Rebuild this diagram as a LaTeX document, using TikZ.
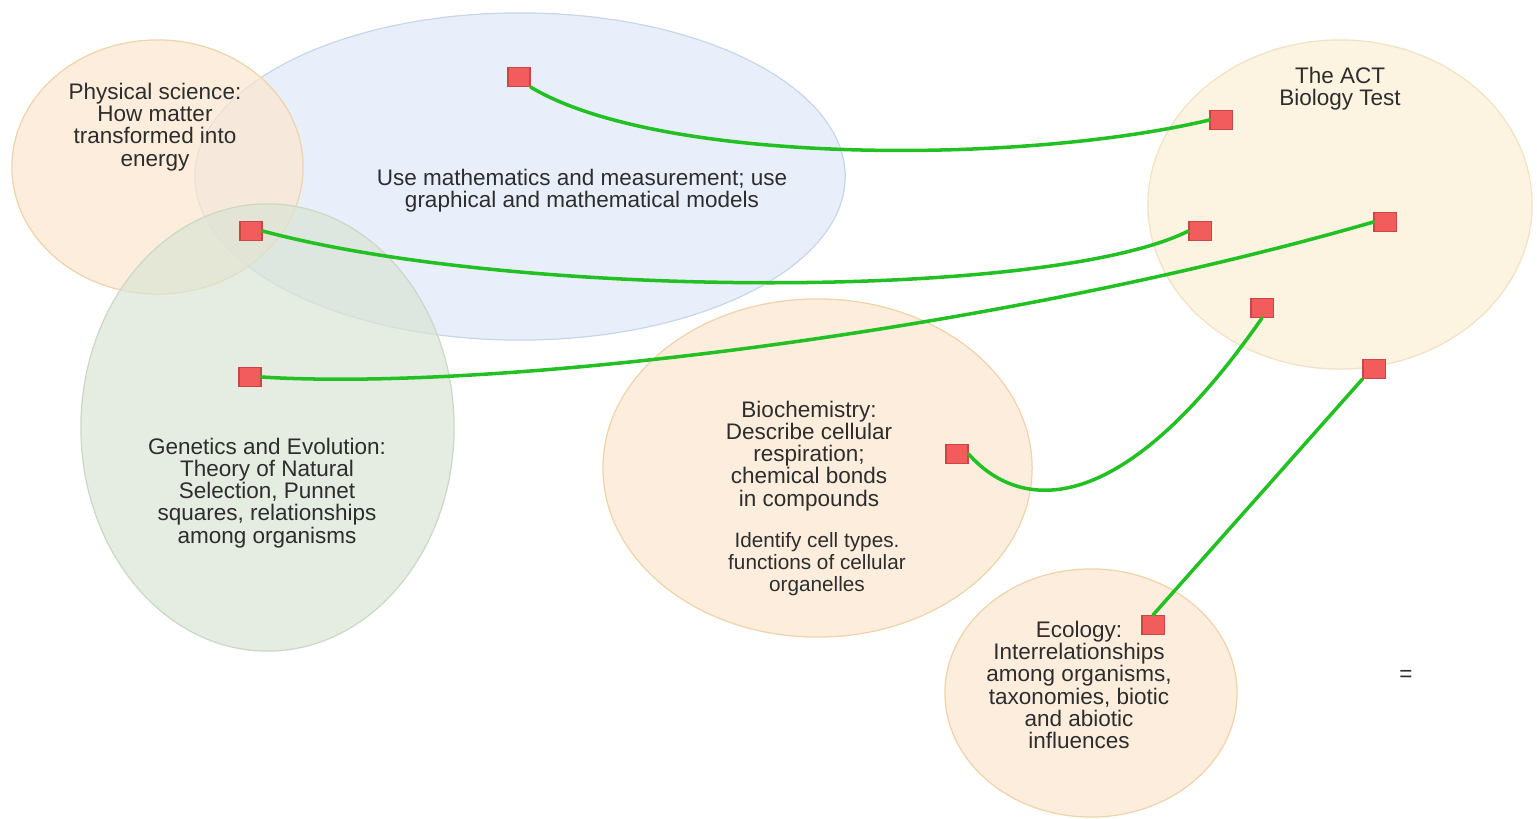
\documentclass[tikz,border=0pt]{standalone}
\usepackage{fontspec}
\setmainfont{Liberation Sans}
\usetikzlibrary{shapes.geometric}
\definecolor{peach}{RGB}{252,230,206}
\definecolor{peachedge}{RGB}{238,212,170}
\definecolor{skyfill}{RGB}{222,232,248}
\definecolor{skyedge}{RGB}{200,214,234}
\definecolor{sagefill}{RGB}{218,228,212}
\definecolor{sageedge}{RGB}{204,216,198}
\definecolor{cream}{RGB}{251,238,211}
\definecolor{creamedge}{RGB}{240,226,196}
\definecolor{sqred}{RGB}{242,92,92}
\definecolor{sqedge}{RGB}{200,70,70}
\definecolor{linkgreen}{RGB}{34,192,34}
\definecolor{textgray}{RGB}{45,45,45}

\begin{document}
\begin{tikzpicture}[x=0.01cm,y=-0.01cm,
  blob/.style={ellipse,inner sep=0pt,fill opacity=0.7,line width=0.35pt},
  lbl/.style={align=center,text=textgray,inner sep=0pt,font=\fontsize{6.4}{6.3}\selectfont},
  sq/.style={draw=sqedge,fill=sqred,minimum width=0.22cm,minimum height=0.19cm,inner sep=0pt,line width=0.3pt},
  link/.style={draw=linkgreen,line width=1pt,line cap=round}]
  \useasboundingbox (0,0) rectangle (1537,819);

  % topic areas
  \node[blob,draw=skyedge,fill=skyfill,minimum width=6.5cm,minimum height=3.27cm] (math) at (520,176.5) {};
  \node[blob,draw=peachedge,fill=peach,minimum width=2.91cm,minimum height=2.54cm] (phys) at (157.5,167) {};
  \node[blob,draw=sageedge,fill=sagefill,minimum width=3.73cm,minimum height=4.47cm] (gene) at (267.5,427.5) {};
  \node[blob,draw=creamedge,fill=cream,minimum width=3.84cm,minimum height=3.29cm] (act) at (1340,204.5) {};
  \node[blob,draw=peachedge,fill=peach,minimum width=4.29cm,minimum height=3.38cm] (bio) at (817.5,468) {};
  \node[blob,draw=peachedge,fill=peach,minimum width=2.92cm,minimum height=2.48cm] (eco) at (1091,693) {};

  % labels
  \node[lbl] (physlbl) at (155,127) {Physical science:\\How matter\\transformed into\\energy};
  \node[lbl] (mathlbl) at (582,191) {Use mathematics and measurement; use\\graphical and mathematical models};
  \node[lbl] (genelbl) at (267,493) {Genetics and Evolution:\\Theory of Natural\\Selection, Punnet\\squares, relationships\\among organisms};
  \node[lbl] (actlbl) at (1340,89) {The ACT\\Biology Test};
  \node[lbl] (biolbl) at (809,456) {Biochemistry:\\Describe cellular\\respiration;\\chemical bonds\\in compounds};
  \node[lbl,font=\fontsize{5.9}{6.3}\selectfont] (celllbl) at (817,564) {Identify cell types.\\functions of cellular\\organelles};
  \node[lbl] (ecolbl) at (1079,685) {Ecology:\\Interrelationships\\among organisms,\\taxonomies, biotic\\and abiotic\\influences};
  \node[lbl] (eq) at (1406,676) {=};

  % anchors
  \node[sq] (s1) at (519,77) {};
  \node[sq] (s2) at (1221,120) {};
  \node[sq] (s3) at (251,231) {};
  \node[sq] (s4) at (1200,231) {};
  \node[sq] (s5) at (1385,222) {};
  \node[sq] (s6) at (250,377) {};
  \node[sq] (s7) at (1262,308) {};
  \node[sq] (s8) at (957,454) {};
  \node[sq] (s9) at (1374,369) {};
  \node[sq] (s10) at (1153,625) {};

  % links
  \draw[link] (s1.south east) .. controls (660,165) and (1020,165) .. (s2.west);
  \draw[link] (s3.east) .. controls (520,300) and (1050,300) .. (s4.west);
  \draw[link] (s6.east) .. controls (500,392) and (1000,330) .. (s5.west);
  \draw[link] (s8.east) .. controls (1020,512) and (1120,522) .. (s7.south);
  \draw[link] (s10.north) -- (s9.south west);
\end{tikzpicture}
\end{document}
